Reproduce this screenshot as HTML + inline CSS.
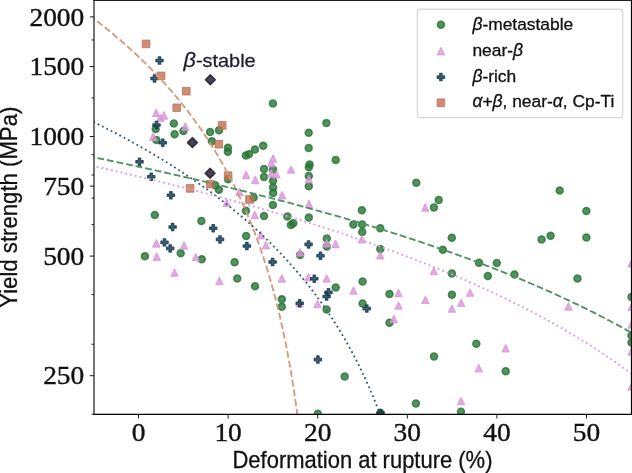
<!DOCTYPE html>
<html><head><meta charset="utf-8"><style>
html,body{margin:0;padding:0;background:#fff;}
body{width:632px;height:473px;overflow:hidden;}
svg{display:block;filter:blur(0.35px);}
.serif{font-family:"Liberation Serif",serif;}
.sans{font-family:"Liberation Sans",sans-serif;stroke-width:0.3px;}
.m0{fill:#287636;fill-opacity:0.8;stroke:#287636;stroke-opacity:0.8;stroke-width:1.6px;stroke-linejoin:round;}
.m1{fill:#da96da;fill-opacity:0.8;stroke:#da96da;stroke-opacity:0.8;stroke-width:1.2px;stroke-linejoin:round;}
.m2{fill:#0f3750;fill-opacity:0.8;stroke:#0f3750;stroke-opacity:0.8;stroke-width:1.2px;stroke-linejoin:round;}
.m3{fill:#c07052;fill-opacity:0.8;stroke:#c07052;stroke-opacity:0.8;stroke-width:1.0px;stroke-linejoin:round;}
.m4{fill:#1c1428;fill-opacity:0.8;stroke:#1c1428;stroke-opacity:0.8;stroke-width:1.5px;stroke-linejoin:round;}

</style></head><body>
<svg width="632" height="473" viewBox="0 0 632 473">
<defs><clipPath id="ax"><rect x="94.0" y="0.5" width="537.3" height="413.8"/></clipPath></defs>
<rect width="632" height="473" fill="#fff"/>

<g clip-path="url(#ax)">
<circle class="m0" cx="272.9" cy="103.6" r="3.45"/><circle class="m0" cx="173.8" cy="123.5" r="3.45"/><circle class="m0" cx="155.7" cy="128.9" r="3.45"/><circle class="m0" cx="174.6" cy="134.2" r="3.45"/><circle class="m0" cx="183.4" cy="131.0" r="3.45"/><circle class="m0" cx="156.4" cy="139.9" r="3.45"/><circle class="m0" cx="210.1" cy="132.0" r="3.45"/><circle class="m0" cx="219.0" cy="130.3" r="3.45"/><circle class="m0" cx="211.9" cy="141.3" r="3.45"/><circle class="m0" cx="227.9" cy="147.8" r="3.45"/><circle class="m0" cx="227.9" cy="151.8" r="3.45"/><circle class="m0" cx="245.8" cy="155.5" r="3.45"/><circle class="m0" cx="249.0" cy="154.3" r="3.45"/><circle class="m0" cx="254.9" cy="149.5" r="3.45"/><circle class="m0" cx="263.2" cy="145.8" r="3.45"/><circle class="m0" cx="308.7" cy="132.7" r="3.45"/><circle class="m0" cx="308.7" cy="148.0" r="3.45"/><circle class="m0" cx="326.4" cy="123.1" r="3.45"/><circle class="m0" cx="335.7" cy="160.0" r="3.45"/><circle class="m0" cx="309.6" cy="164.4" r="3.45"/><circle class="m0" cx="308.8" cy="167.2" r="3.45"/><circle class="m0" cx="308.8" cy="176.0" r="3.45"/><circle class="m0" cx="308.8" cy="186.3" r="3.45"/><circle class="m0" cx="264.0" cy="169.0" r="3.45"/><circle class="m0" cx="264.0" cy="177.0" r="3.45"/><circle class="m0" cx="273.1" cy="169.6" r="3.45"/><circle class="m0" cx="273.1" cy="180.7" r="3.45"/><circle class="m0" cx="273.1" cy="187.6" r="3.45"/><circle class="m0" cx="273.1" cy="192.9" r="3.45"/><circle class="m0" cx="253.7" cy="197.5" r="3.45"/><circle class="m0" cx="272.9" cy="205.0" r="3.45"/><circle class="m0" cx="228.1" cy="179.2" r="3.45"/><circle class="m0" cx="215.3" cy="185.3" r="3.45"/><circle class="m0" cx="218.9" cy="189.8" r="3.45"/><circle class="m0" cx="245.9" cy="210.7" r="3.45"/><circle class="m0" cx="264.0" cy="216.1" r="3.45"/><circle class="m0" cx="201.4" cy="220.9" r="3.45"/><circle class="m0" cx="154.8" cy="214.9" r="3.45"/><circle class="m0" cx="246.2" cy="236.0" r="3.45"/><circle class="m0" cx="180.7" cy="253.2" r="3.45"/><circle class="m0" cx="144.9" cy="256.3" r="3.45"/><circle class="m0" cx="201.7" cy="259.3" r="3.45"/><circle class="m0" cx="234.6" cy="262.2" r="3.45"/><circle class="m0" cx="237.3" cy="278.4" r="3.45"/><circle class="m0" cx="255.0" cy="286.2" r="3.45"/><circle class="m0" cx="281.8" cy="299.3" r="3.45"/><circle class="m0" cx="281.8" cy="306.8" r="3.45"/><circle class="m0" cx="287.4" cy="216.4" r="3.45"/><circle class="m0" cx="293.3" cy="223.2" r="3.45"/><circle class="m0" cx="290.9" cy="225.1" r="3.45"/><circle class="m0" cx="308.8" cy="217.6" r="3.45"/><circle class="m0" cx="361.8" cy="210.3" r="3.45"/><circle class="m0" cx="353.4" cy="224.4" r="3.45"/><circle class="m0" cx="362.2" cy="224.5" r="3.45"/><circle class="m0" cx="362.2" cy="232.0" r="3.45"/><circle class="m0" cx="326.8" cy="238.5" r="3.45"/><circle class="m0" cx="326.8" cy="246.4" r="3.45"/><circle class="m0" cx="300.1" cy="255.1" r="3.45"/><circle class="m0" cx="416.3" cy="182.7" r="3.45"/><circle class="m0" cx="438.7" cy="199.9" r="3.45"/><circle class="m0" cx="433.9" cy="207.4" r="3.45"/><circle class="m0" cx="380.3" cy="228.2" r="3.45"/><circle class="m0" cx="451.8" cy="237.8" r="3.45"/><circle class="m0" cx="380.3" cy="249.0" r="3.45"/><circle class="m0" cx="442.8" cy="249.8" r="3.45"/><circle class="m0" cx="451.9" cy="273.5" r="3.45"/><circle class="m0" cx="362.6" cy="281.6" r="3.45"/><circle class="m0" cx="389.5" cy="294.1" r="3.45"/><circle class="m0" cx="451.9" cy="294.8" r="3.45"/><circle class="m0" cx="335.7" cy="287.4" r="3.45"/><circle class="m0" cx="326.6" cy="309.6" r="3.45"/><circle class="m0" cx="362.6" cy="303.5" r="3.45"/><circle class="m0" cx="389.5" cy="322.7" r="3.45"/><circle class="m0" cx="344.7" cy="376.4" r="3.45"/><circle class="m0" cx="317.8" cy="413.7" r="3.45"/><circle class="m0" cx="380.5" cy="413.0" r="3.45"/><circle class="m0" cx="415.9" cy="403.4" r="3.45"/><circle class="m0" cx="476.3" cy="343.7" r="3.45"/><circle class="m0" cx="434.0" cy="356.4" r="3.45"/><circle class="m0" cx="505.7" cy="371.2" r="3.45"/><circle class="m0" cx="461.0" cy="411.7" r="3.45"/><circle class="m0" cx="586.4" cy="211.0" r="3.45"/><circle class="m0" cx="586.4" cy="237.5" r="3.45"/><circle class="m0" cx="550.6" cy="235.8" r="3.45"/><circle class="m0" cx="541.6" cy="239.4" r="3.45"/><circle class="m0" cx="559.7" cy="190.6" r="3.45"/><circle class="m0" cx="479.0" cy="262.7" r="3.45"/><circle class="m0" cx="496.8" cy="263.0" r="3.45"/><circle class="m0" cx="487.9" cy="276.0" r="3.45"/><circle class="m0" cx="514.5" cy="274.6" r="3.45"/><circle class="m0" cx="577.5" cy="278.6" r="3.45"/><circle class="m0" cx="631.5" cy="296.9" r="3.45"/><circle class="m0" cx="631.5" cy="335.6" r="3.45"/><circle class="m0" cx="631.5" cy="342.6" r="3.45"/>
<path class="m1" d="M156.10 109.15L159.65 116.45L152.55 116.45Z"/><path class="m1" d="M163.90 111.85L167.45 119.15L160.35 119.15Z"/><path class="m1" d="M160.40 114.15L163.95 121.45L156.85 121.45Z"/><path class="m1" d="M185.30 122.95L188.85 130.25L181.75 130.25Z"/><path class="m1" d="M153.20 133.05L156.75 140.35L149.65 140.35Z"/><path class="m1" d="M273.00 154.85L276.55 162.15L269.45 162.15Z"/><path class="m1" d="M271.20 159.55L274.75 166.85L267.65 166.85Z"/><path class="m1" d="M271.20 169.65L274.75 176.95L267.65 176.95Z"/><path class="m1" d="M276.50 170.65L280.05 177.95L272.95 177.95Z"/><path class="m1" d="M291.00 165.95L294.55 173.25L287.45 173.25Z"/><path class="m1" d="M246.10 171.25L249.65 178.55L242.55 178.55Z"/><path class="m1" d="M255.20 176.25L258.75 183.55L251.65 183.55Z"/><path class="m1" d="M239.50 188.35L243.05 195.65L235.95 195.65Z"/><path class="m1" d="M282.10 191.55L285.65 198.85L278.55 198.85Z"/><path class="m1" d="M308.90 175.65L312.45 182.95L305.35 182.95Z"/><path class="m1" d="M308.90 200.35L312.45 207.65L305.35 207.65Z"/><path class="m1" d="M226.70 199.15L230.25 206.45L223.15 206.45Z"/><path class="m1" d="M254.80 211.25L258.35 218.55L251.25 218.55Z"/><path class="m1" d="M260.90 231.55L264.45 238.85L257.35 238.85Z"/><path class="m1" d="M265.90 241.55L269.45 248.85L262.35 248.85Z"/><path class="m1" d="M184.00 241.85L187.55 249.15L180.45 249.15Z"/><path class="m1" d="M156.40 239.75L159.95 247.05L152.85 247.05Z"/><path class="m1" d="M156.70 253.05L160.25 260.35L153.15 260.35Z"/><path class="m1" d="M174.50 268.95L178.05 276.25L170.95 276.25Z"/><path class="m1" d="M195.80 253.45L199.35 260.75L192.25 260.75Z"/><path class="m1" d="M219.40 277.25L222.95 284.55L215.85 284.55Z"/><path class="m1" d="M326.80 239.65L330.35 246.95L323.25 246.95Z"/><path class="m1" d="M335.50 240.35L339.05 247.65L331.95 247.65Z"/><path class="m1" d="M300.10 248.65L303.65 255.95L296.55 255.95Z"/><path class="m1" d="M361.80 235.65L365.35 242.95L358.25 242.95Z"/><path class="m1" d="M380.30 251.65L383.85 258.95L376.75 258.95Z"/><path class="m1" d="M433.80 267.45L437.35 274.75L430.25 274.75Z"/><path class="m1" d="M425.30 203.85L428.85 211.15L421.75 211.15Z"/><path class="m1" d="M281.90 274.75L285.45 282.05L278.35 282.05Z"/><path class="m1" d="M308.40 273.55L311.95 280.85L304.85 280.85Z"/><path class="m1" d="M326.60 274.75L330.15 282.05L323.05 282.05Z"/><path class="m1" d="M353.50 286.95L357.05 294.25L349.95 294.25Z"/><path class="m1" d="M317.50 300.45L321.05 307.75L313.95 307.75Z"/><path class="m1" d="M299.70 299.65L303.25 306.95L296.15 306.95Z"/><path class="m1" d="M398.50 289.35L402.05 296.65L394.95 296.65Z"/><path class="m1" d="M398.50 301.95L402.05 309.25L394.95 309.25Z"/><path class="m1" d="M425.40 296.15L428.95 303.45L421.85 303.45Z"/><path class="m1" d="M393.80 315.15L397.35 322.45L390.25 322.45Z"/><path class="m1" d="M451.90 304.95L455.45 312.25L448.35 312.25Z"/><path class="m1" d="M461.20 299.15L464.75 306.45L457.65 306.45Z"/><path class="m1" d="M470.10 288.95L473.65 296.25L466.55 296.25Z"/><path class="m1" d="M568.40 302.85L571.95 310.15L564.85 310.15Z"/><path class="m1" d="M505.70 344.65L509.25 351.95L502.15 351.95Z"/><path class="m1" d="M478.70 364.55L482.25 371.85L475.15 371.85Z"/><path class="m1" d="M461.00 397.45L464.55 404.75L457.45 404.75Z"/><path class="m1" d="M631.50 259.65L635.05 266.95L627.95 266.95Z"/><path class="m1" d="M631.50 303.45L635.05 310.75L627.95 310.75Z"/><path class="m1" d="M631.50 320.85L635.05 328.15L627.95 328.15Z"/><path class="m1" d="M631.50 347.85L635.05 355.15L627.95 355.15Z"/><path class="m1" d="M631.50 382.75L635.05 390.05L627.95 390.05Z"/>
<path class="m2" d="M158.28 56.85L160.72 56.85L160.72 59.28L163.15 59.28L163.15 61.72L160.72 61.72L160.72 64.15L158.28 64.15L158.28 61.72L155.85 61.72L155.85 59.28L158.28 59.28Z"/><path class="m2" d="M153.28 74.85L155.72 74.85L155.72 77.28L158.15 77.28L158.15 79.72L155.72 79.72L155.72 82.15L153.28 82.15L153.28 79.72L150.85 79.72L150.85 77.28L153.28 77.28Z"/><path class="m2" d="M155.28 121.35L157.72 121.35L157.72 123.78L160.15 123.78L160.15 126.22L157.72 126.22L157.72 128.65L155.28 128.65L155.28 126.22L152.85 126.22L152.85 123.78L155.28 123.78Z"/><path class="m2" d="M161.58 139.05L164.02 139.05L164.02 141.48L166.45 141.48L166.45 143.92L164.02 143.92L164.02 146.35L161.58 146.35L161.58 143.92L159.15 143.92L159.15 141.48L161.58 141.48Z"/><path class="m2" d="M138.28 158.15L140.72 158.15L140.72 160.58L143.15 160.58L143.15 163.02L140.72 163.02L140.72 165.45L138.28 165.45L138.28 163.02L135.85 163.02L135.85 160.58L138.28 160.58Z"/><path class="m2" d="M149.98 173.15L152.42 173.15L152.42 175.58L154.85 175.58L154.85 178.02L152.42 178.02L152.42 180.45L149.98 180.45L149.98 178.02L147.55 178.02L147.55 175.58L149.98 175.58Z"/><path class="m2" d="M169.68 191.65L172.12 191.65L172.12 194.08L174.55 194.08L174.55 196.52L172.12 196.52L172.12 198.95L169.68 198.95L169.68 196.52L167.25 196.52L167.25 194.08L169.68 194.08Z"/><path class="m2" d="M171.38 223.35L173.82 223.35L173.82 225.78L176.25 225.78L176.25 228.22L173.82 228.22L173.82 230.65L171.38 230.65L171.38 228.22L168.95 228.22L168.95 225.78L171.38 225.78Z"/><path class="m2" d="M163.28 238.75L165.72 238.75L165.72 241.18L168.15 241.18L168.15 243.62L165.72 243.62L165.72 246.05L163.28 246.05L163.28 243.62L160.85 243.62L160.85 241.18L163.28 241.18Z"/><path class="m2" d="M168.98 244.75L171.42 244.75L171.42 247.18L173.85 247.18L173.85 249.62L171.42 249.62L171.42 252.05L168.98 252.05L168.98 249.62L166.55 249.62L166.55 247.18L168.98 247.18Z"/><path class="m2" d="M211.98 224.55L214.42 224.55L214.42 226.98L216.85 226.98L216.85 229.42L214.42 229.42L214.42 231.85L211.98 231.85L211.98 229.42L209.55 229.42L209.55 226.98L211.98 226.98Z"/><path class="m2" d="M218.78 235.75L221.22 235.75L221.22 238.18L223.65 238.18L223.65 240.62L221.22 240.62L221.22 243.05L218.78 243.05L218.78 240.62L216.35 240.62L216.35 238.18L218.78 238.18Z"/><path class="m2" d="M245.68 242.35L248.12 242.35L248.12 244.78L250.55 244.78L250.55 247.22L248.12 247.22L248.12 249.65L245.68 249.65L245.68 247.22L243.25 247.22L243.25 244.78L245.68 244.78Z"/><path class="m2" d="M271.38 258.35L273.82 258.35L273.82 260.78L276.25 260.78L276.25 263.22L273.82 263.22L273.82 265.65L271.38 265.65L271.38 263.22L268.95 263.22L268.95 260.78L271.38 260.78Z"/><path class="m2" d="M307.38 240.75L309.82 240.75L309.82 243.18L312.25 243.18L312.25 245.62L309.82 245.62L309.82 248.05L307.38 248.05L307.38 245.62L304.95 245.62L304.95 243.18L307.38 243.18Z"/><path class="m2" d="M319.28 252.15L321.72 252.15L321.72 254.58L324.15 254.58L324.15 257.02L321.72 257.02L321.72 259.45L319.28 259.45L319.28 257.02L316.85 257.02L316.85 254.58L319.28 254.58Z"/><path class="m2" d="M313.08 275.05L315.52 275.05L315.52 277.48L317.95 277.48L317.95 279.92L315.52 279.92L315.52 282.35L313.08 282.35L313.08 279.92L310.65 279.92L310.65 277.48L313.08 277.48Z"/><path class="m2" d="M327.28 288.55L329.72 288.55L329.72 290.98L332.15 290.98L332.15 293.42L329.72 293.42L329.72 295.85L327.28 295.85L327.28 293.42L324.85 293.42L324.85 290.98L327.28 290.98Z"/><path class="m2" d="M325.38 292.85L327.82 292.85L327.82 295.28L330.25 295.28L330.25 297.72L327.82 297.72L327.82 300.15L325.38 300.15L325.38 297.72L322.95 297.72L322.95 295.28L325.38 295.28Z"/><path class="m2" d="M298.48 299.65L300.92 299.65L300.92 302.08L303.35 302.08L303.35 304.52L300.92 304.52L300.92 306.95L298.48 306.95L298.48 304.52L296.05 304.52L296.05 302.08L298.48 302.08Z"/><path class="m2" d="M365.58 304.95L368.02 304.95L368.02 307.38L370.45 307.38L370.45 309.82L368.02 309.82L368.02 312.25L365.58 312.25L365.58 309.82L363.15 309.82L363.15 307.38L365.58 307.38Z"/><path class="m2" d="M316.68 355.95L319.12 355.95L319.12 358.38L321.55 358.38L321.55 360.82L319.12 360.82L319.12 363.25L316.68 363.25L316.68 360.82L314.25 360.82L314.25 358.38L316.68 358.38Z"/><path class="m2" d="M379.28 409.35L381.72 409.35L381.72 411.78L384.15 411.78L384.15 414.22L381.72 414.22L381.72 416.65L379.28 416.65L379.28 414.22L376.85 414.22L376.85 411.78L379.28 411.78Z"/>
<rect class="m3" x="142.25" y="40.10" width="7.6" height="7.6"/><rect class="m3" x="157.30" y="72.10" width="7.6" height="7.6"/><rect class="m3" x="182.50" y="87.40" width="7.6" height="7.6"/><rect class="m3" x="172.90" y="104.00" width="7.6" height="7.6"/><rect class="m3" x="218.40" y="121.60" width="7.6" height="7.6"/><rect class="m3" x="215.00" y="140.40" width="7.6" height="7.6"/><rect class="m3" x="224.30" y="171.80" width="7.6" height="7.6"/><rect class="m3" x="206.60" y="180.30" width="7.6" height="7.6"/><rect class="m3" x="186.30" y="184.60" width="7.6" height="7.6"/><rect class="m3" x="245.70" y="195.70" width="7.6" height="7.6"/>
<path class="m4" d="M210.35 74.80L215.30 79.75L210.35 84.70L205.40 79.75Z"/><path class="m4" d="M192.40 137.65L197.35 142.60L192.40 147.55L187.45 142.60Z"/><path class="m4" d="M210.10 168.25L215.05 173.20L210.10 178.15L205.15 173.20Z"/>
<path d="M91.91 17.23L92.60 17.75L93.29 18.28L93.98 18.80L94.67 19.33L95.36 19.86L96.05 20.39L96.74 20.92L97.43 21.45L98.12 21.99L98.81 22.53L99.50 23.06L100.19 23.60L100.88 24.15L101.57 24.69L102.26 25.24L102.95 25.78L103.64 26.33L104.33 26.88L105.02 27.44L105.71 27.99L106.40 28.55L107.09 29.10L107.78 29.66L108.47 30.22L109.16 30.79L109.85 31.35L110.54 31.92L111.23 32.49L111.92 33.06L112.61 33.63L113.30 34.21L113.99 34.78L114.68 35.36L115.37 35.94L116.06 36.52L116.75 37.11L117.44 37.69L118.12 38.28L118.81 38.87L119.50 39.47L120.19 40.06L120.88 40.66L121.57 41.25L122.26 41.86L122.95 42.46L123.64 43.06L124.33 43.67L125.02 44.28L125.71 44.89L126.40 45.50L127.09 46.12L127.78 46.74L128.47 47.36L129.16 47.98L129.85 48.60L130.54 49.23L131.23 49.86L131.92 50.49L132.61 51.12L133.30 51.76L133.99 52.40L134.68 53.04L135.37 53.68L136.06 54.33L136.75 54.98L137.44 55.63L138.13 56.28L138.82 56.93L139.51 57.59L140.20 58.25L140.89 58.91L141.58 59.58L142.27 60.25L142.96 60.92L143.65 61.59L144.34 62.27L145.03 62.95L145.72 63.63L146.41 64.31L147.10 65.00L147.79 65.69L148.48 66.38L149.17 67.07L149.86 67.77L150.55 68.47L151.24 69.18L151.93 69.88L152.62 70.59L153.31 71.30L154.00 72.02L154.69 72.74L155.38 73.46L156.07 74.18L156.76 74.91L157.45 75.64L158.14 76.37L158.83 77.11L159.52 77.85L160.21 78.59L160.90 79.34L161.59 80.09L162.28 80.84L162.97 81.59L163.66 82.35L164.35 83.12L165.04 83.88L165.73 84.65L166.42 85.42L167.11 86.20L167.80 86.98L168.49 87.76L169.18 88.55L169.87 89.34L170.56 90.13L171.25 90.93L171.94 91.73L172.63 92.54L173.32 93.35L174.01 94.16L174.70 94.98L175.39 95.80L176.08 96.62L176.77 97.45L177.46 98.28L178.15 99.12L178.84 99.96L179.53 100.80L180.22 101.65L180.91 102.50L181.60 103.36L182.29 104.22L182.98 105.09L183.67 105.96L184.36 106.83L185.05 107.71L185.74 108.59L186.43 109.48L187.12 110.38L187.81 111.27L188.50 112.17L189.19 113.08L189.88 113.99L190.57 114.91L191.26 115.83L191.95 116.76L192.64 117.69L193.33 118.62L194.02 119.56L194.71 120.51L195.40 121.46L196.09 122.42L196.78 123.38L197.47 124.35L198.16 125.32L198.85 126.30L199.54 127.29L200.23 128.28L200.92 129.27L201.61 130.27L202.30 131.28L202.99 132.29L203.68 133.31L204.36 134.34L205.05 135.37L205.74 136.41L206.43 137.45L207.12 138.50L207.81 139.56L208.50 140.62L209.19 141.69L209.88 142.77L210.57 143.85L211.26 144.94L211.95 146.04L212.64 147.14L213.33 148.25L214.02 149.37L214.71 150.49L215.40 151.63L216.09 152.77L216.78 153.91L217.47 155.07L218.16 156.23L218.85 157.41L219.54 158.58L220.23 159.77L220.92 160.97L221.61 162.17L222.30 163.38L222.99 164.60L223.68 165.83L224.37 167.07L225.06 168.32L225.75 169.58L226.44 170.84L227.13 172.12L227.82 173.40L228.51 174.70L229.20 176.00L229.89 177.32L230.58 178.64L231.27 179.97L231.96 181.32L232.65 182.67L233.34 184.04L234.03 185.42L234.72 186.81L235.41 188.20L236.10 189.62L236.79 191.04L237.48 192.47L238.17 193.92L238.86 195.38L239.55 196.85L240.24 198.33L240.93 199.83L241.62 201.34L242.31 202.86L243.00 204.40L243.69 205.95L244.38 207.51L245.07 209.09L245.76 210.68L246.45 212.29L247.14 213.91L247.83 215.55L248.52 217.20L249.21 218.88L249.90 220.56L250.59 222.26L251.28 223.98L251.97 225.72L252.66 227.48L253.35 229.25L254.04 231.04L254.73 232.85L255.42 234.68L256.11 236.53L256.80 238.40L257.49 240.29L258.18 242.20L258.87 244.13L259.56 246.09L260.25 248.06L260.94 250.06L261.63 252.08L262.32 254.13L263.01 256.20L263.70 258.30L264.39 260.42L265.08 262.57L265.77 264.74L266.46 266.95L267.15 269.18L267.84 271.44L268.53 273.73L269.22 276.05L269.91 278.41L270.60 280.79L271.29 283.21L271.98 285.67L272.67 288.16L273.36 290.68L274.05 293.25L274.74 295.85L275.43 298.49L276.12 301.17L276.81 303.90L277.50 306.67L278.19 309.48L278.88 312.34L279.57 315.25L280.26 318.21L280.95 321.22L281.64 324.29L282.33 327.41L283.02 330.58L283.71 333.82L284.40 337.12L285.09 340.48L285.78 343.91L286.47 347.41L287.16 350.98L287.85 354.63L288.54 358.36L289.23 362.16L289.92 366.06L290.60 370.04L291.29 374.12L291.98 378.30L292.67 382.58L293.36 386.97L294.05 391.47L294.74 396.10L295.43 400.85L296.12 405.73L296.81 410.76L297.50 415.94L298.19 421.28L298.88 426.80" fill="none" stroke="#d39a7d" stroke-width="1.84" stroke-dasharray="6.81 2.946" stroke-dashoffset="3.27"/>
<path d="M91.91 121.20L92.88 121.68L93.86 122.16L94.84 122.64L95.81 123.13L96.79 123.61L97.77 124.10L98.74 124.58L99.72 125.07L100.70 125.56L101.67 126.05L102.65 126.54L103.63 127.04L104.60 127.53L105.58 128.03L106.56 128.53L107.53 129.03L108.51 129.53L109.49 130.03L110.46 130.53L111.44 131.04L112.42 131.54L113.39 132.05L114.37 132.56L115.35 133.07L116.32 133.59L117.30 134.10L118.28 134.62L119.25 135.13L120.23 135.65L121.21 136.17L122.18 136.69L123.16 137.22L124.14 137.74L125.11 138.27L126.09 138.80L127.07 139.33L128.04 139.86L129.02 140.39L130.00 140.93L130.97 141.47L131.95 142.00L132.93 142.54L133.90 143.09L134.88 143.63L135.86 144.17L136.83 144.72L137.81 145.27L138.79 145.82L139.76 146.37L140.74 146.93L141.72 147.48L142.69 148.04L143.67 148.60L144.65 149.16L145.62 149.72L146.60 150.29L147.58 150.85L148.55 151.42L149.53 151.99L150.51 152.56L151.48 153.14L152.46 153.71L153.44 154.29L154.41 154.87L155.39 155.45L156.37 156.04L157.34 156.62L158.32 157.21L159.30 157.80L160.27 158.39L161.25 158.99L162.23 159.58L163.20 160.18L164.18 160.78L165.16 161.38L166.13 161.99L167.11 162.59L168.09 163.20L169.06 163.81L170.04 164.43L171.02 165.04L171.99 165.66L172.97 166.28L173.95 166.90L174.92 167.52L175.90 168.15L176.88 168.78L177.85 169.41L178.83 170.04L179.81 170.68L180.78 171.31L181.76 171.95L182.74 172.60L183.71 173.24L184.69 173.89L185.67 174.54L186.64 175.19L187.62 175.85L188.60 176.50L189.57 177.16L190.55 177.83L191.53 178.49L192.50 179.16L193.48 179.83L194.46 180.50L195.43 181.18L196.41 181.85L197.39 182.53L198.36 183.22L199.34 183.90L200.32 184.59L201.29 185.28L202.27 185.98L203.24 186.67L204.22 187.37L205.20 188.08L206.17 188.78L207.15 189.49L208.13 190.20L209.10 190.92L210.08 191.63L211.06 192.35L212.03 193.08L213.01 193.80L213.99 194.53L214.96 195.27L215.94 196.00L216.92 196.74L217.89 197.48L218.87 198.23L219.85 198.98L220.82 199.73L221.80 200.48L222.78 201.24L223.75 202.00L224.73 202.77L225.71 203.54L226.68 204.31L227.66 205.08L228.64 205.86L229.61 206.64L230.59 207.43L231.57 208.22L232.54 209.01L233.52 209.81L234.50 210.61L235.47 211.41L236.45 212.22L237.43 213.03L238.40 213.85L239.38 214.67L240.36 215.49L241.33 216.32L242.31 217.15L243.29 217.99L244.26 218.83L245.24 219.67L246.22 220.52L247.19 221.37L248.17 222.23L249.15 223.09L250.12 223.95L251.10 224.82L252.08 225.69L253.05 226.57L254.03 227.45L255.01 228.34L255.98 229.23L256.96 230.13L257.94 231.03L258.91 231.94L259.89 232.85L260.87 233.76L261.84 234.68L262.82 235.61L263.80 236.54L264.77 237.47L265.75 238.41L266.73 239.36L267.70 240.31L268.68 241.26L269.66 242.22L270.63 243.19L271.61 244.16L272.59 245.14L273.56 246.12L274.54 247.11L275.52 248.10L276.49 249.10L277.47 250.11L278.45 251.12L279.42 252.14L280.40 253.16L281.38 254.19L282.35 255.23L283.33 256.27L284.31 257.32L285.28 258.38L286.26 259.44L287.24 260.51L288.21 261.58L289.19 262.66L290.17 263.75L291.14 264.84L292.12 265.95L293.10 267.06L294.07 268.17L295.05 269.30L296.03 270.43L297.00 271.57L297.98 272.71L298.96 273.87L299.93 275.03L300.91 276.20L301.89 277.37L302.86 278.56L303.84 279.75L304.82 280.96L305.79 282.17L306.77 283.39L307.75 284.61L308.72 285.85L309.70 287.10L310.68 288.35L311.65 289.61L312.63 290.89L313.61 292.17L314.58 293.46L315.56 294.76L316.54 296.07L317.51 297.40L318.49 298.73L319.47 300.07L320.44 301.42L321.42 302.79L322.40 304.16L323.37 305.55L324.35 306.94L325.32 308.35L326.30 309.77L327.28 311.20L328.25 312.65L329.23 314.10L330.21 315.57L331.18 317.05L332.16 318.54L333.14 320.05L334.11 321.57L335.09 323.10L336.07 324.65L337.04 326.21L338.02 327.79L339.00 329.38L339.97 330.98L340.95 332.60L341.93 334.23L342.90 335.88L343.88 337.55L344.86 339.23L345.83 340.93L346.81 342.65L347.79 344.38L348.76 346.13L349.74 347.90L350.72 349.69L351.69 351.50L352.67 353.32L353.65 355.17L354.62 357.03L355.60 358.91L356.58 360.82L357.55 362.75L358.53 364.70L359.51 366.67L360.48 368.66L361.46 370.68L362.44 372.72L363.41 374.78L364.39 376.87L365.37 378.99L366.34 381.13L367.32 383.30L368.30 385.50L369.27 387.72L370.25 389.98L371.23 392.26L372.20 394.58L373.18 396.92L374.16 399.30L375.13 401.71L376.11 404.16L377.09 406.64L378.06 409.16L379.04 411.71L380.02 414.31L380.99 416.94L381.97 419.61L382.95 422.33L383.92 425.09L384.90 427.89" fill="none" stroke="#385d71" stroke-width="1.84" stroke-dasharray="1.84 3.04" stroke-dashoffset="3.37"/>
<path d="M91.91 156.91L93.71 157.28L95.52 157.65L97.32 158.02L99.12 158.39L100.93 158.76L102.73 159.14L104.54 159.51L106.34 159.88L108.14 160.26L109.95 160.64L111.75 161.01L113.56 161.39L115.36 161.77L117.16 162.15L118.97 162.53L120.77 162.91L122.58 163.29L124.38 163.68L126.18 164.06L127.99 164.44L129.79 164.83L131.59 165.22L133.40 165.60L135.20 165.99L137.01 166.38L138.81 166.77L140.61 167.16L142.42 167.55L144.22 167.95L146.03 168.34L147.83 168.73L149.63 169.13L151.44 169.52L153.24 169.92L155.05 170.32L156.85 170.72L158.65 171.12L160.46 171.52L162.26 171.92L164.07 172.32L165.87 172.73L167.67 173.13L169.48 173.54L171.28 173.94L173.09 174.35L174.89 174.76L176.69 175.17L178.50 175.58L180.30 175.99L182.11 176.40L183.91 176.82L185.71 177.23L187.52 177.64L189.32 178.06L191.13 178.48L192.93 178.90L194.73 179.32L196.54 179.74L198.34 180.16L200.14 180.58L201.95 181.00L203.75 181.43L205.56 181.85L207.36 182.28L209.16 182.71L210.97 183.14L212.77 183.57L214.58 184.00L216.38 184.43L218.18 184.86L219.99 185.29L221.79 185.73L223.60 186.17L225.40 186.60L227.20 187.04L229.01 187.48L230.81 187.92L232.62 188.36L234.42 188.81L236.22 189.25L238.03 189.70L239.83 190.14L241.64 190.59L243.44 191.04L245.24 191.49L247.05 191.94L248.85 192.39L250.66 192.85L252.46 193.30L254.26 193.76L256.07 194.21L257.87 194.67L259.68 195.13L261.48 195.59L263.28 196.05L265.09 196.52L266.89 196.98L268.69 197.45L270.50 197.91L272.30 198.38L274.11 198.85L275.91 199.32L277.71 199.79L279.52 200.27L281.32 200.74L283.13 201.22L284.93 201.69L286.73 202.17L288.54 202.65L290.34 203.13L292.15 203.62L293.95 204.10L295.75 204.59L297.56 205.07L299.36 205.56L301.17 206.05L302.97 206.54L304.77 207.03L306.58 207.53L308.38 208.02L310.19 208.52L311.99 209.02L313.79 209.52L315.60 210.02L317.40 210.52L319.21 211.02L321.01 211.53L322.81 212.03L324.62 212.54L326.42 213.05L328.23 213.56L330.03 214.08L331.83 214.59L333.64 215.11L335.44 215.62L337.24 216.14L339.05 216.66L340.85 217.18L342.66 217.71L344.46 218.23L346.26 218.76L348.07 219.29L349.87 219.82L351.68 220.35L353.48 220.88L355.28 221.42L357.09 221.95L358.89 222.49L360.70 223.03L362.50 223.57L364.30 224.12L366.11 224.66L367.91 225.21L369.72 225.76L371.52 226.31L373.32 226.86L375.13 227.41L376.93 227.97L378.74 228.53L380.54 229.09L382.34 229.65L384.15 230.21L385.95 230.77L387.76 231.34L389.56 231.91L391.36 232.48L393.17 233.05L394.97 233.63L396.77 234.20L398.58 234.78L400.38 235.36L402.19 235.94L403.99 236.53L405.79 237.11L407.60 237.70L409.40 238.29L411.21 238.88L413.01 239.47L414.81 240.07L416.62 240.67L418.42 241.27L420.23 241.87L422.03 242.48L423.83 243.08L425.64 243.69L427.44 244.30L429.25 244.91L431.05 245.53L432.85 246.15L434.66 246.77L436.46 247.39L438.27 248.01L440.07 248.64L441.87 249.27L443.68 249.90L445.48 250.53L447.29 251.16L449.09 251.80L450.89 252.44L452.70 253.08L454.50 253.73L456.31 254.38L458.11 255.03L459.91 255.68L461.72 256.33L463.52 256.99L465.32 257.65L467.13 258.31L468.93 258.98L470.74 259.65L472.54 260.31L474.34 260.99L476.15 261.66L477.95 262.34L479.76 263.02L481.56 263.70L483.36 264.39L485.17 265.08L486.97 265.77L488.78 266.46L490.58 267.16L492.38 267.86L494.19 268.56L495.99 269.27L497.80 269.98L499.60 270.69L501.40 271.40L503.21 272.12L505.01 272.84L506.82 273.56L508.62 274.29L510.42 275.02L512.23 275.75L514.03 276.49L515.84 277.23L517.64 277.97L519.44 278.71L521.25 279.46L523.05 280.21L524.86 280.97L526.66 281.73L528.46 282.49L530.27 283.25L532.07 284.02L533.87 284.79L535.68 285.57L537.48 286.35L539.29 287.13L541.09 287.92L542.89 288.71L544.70 289.50L546.50 290.30L548.31 291.10L550.11 291.90L551.91 292.71L553.72 293.52L555.52 294.34L557.33 295.16L559.13 295.98L560.93 296.81L562.74 297.64L564.54 298.47L566.35 299.31L568.15 300.16L569.95 301.00L571.76 301.86L573.56 302.71L575.37 303.57L577.17 304.44L578.97 305.31L580.78 306.18L582.58 307.06L584.39 307.94L586.19 308.83L587.99 309.72L589.80 310.61L591.60 311.51L593.41 312.42L595.21 313.33L597.01 314.25L598.82 315.17L600.62 316.09L602.42 317.02L604.23 317.96L606.03 318.90L607.84 319.84L609.64 320.79L611.44 321.75L613.25 322.71L615.05 323.67L616.86 324.65L618.66 325.62L620.46 326.61L622.27 327.59L624.07 328.59L625.88 329.59L627.68 330.59L629.48 331.61L631.29 332.62L633.09 333.65" fill="none" stroke="#4d935e" stroke-width="1.84" stroke-dasharray="6.81 2.946" stroke-dashoffset="4.13"/>
<path d="M91.91 165.75L93.71 166.16L95.52 166.56L97.32 166.97L99.12 167.38L100.93 167.78L102.73 168.19L104.54 168.60L106.34 169.02L108.14 169.43L109.95 169.84L111.75 170.26L113.56 170.67L115.36 171.09L117.16 171.50L118.97 171.92L120.77 172.34L122.58 172.76L124.38 173.18L126.18 173.61L127.99 174.03L129.79 174.45L131.59 174.88L133.40 175.31L135.20 175.73L137.01 176.16L138.81 176.59L140.61 177.02L142.42 177.46L144.22 177.89L146.03 178.32L147.83 178.76L149.63 179.19L151.44 179.63L153.24 180.07L155.05 180.51L156.85 180.95L158.65 181.39L160.46 181.84L162.26 182.28L164.07 182.73L165.87 183.17L167.67 183.62L169.48 184.07L171.28 184.52L173.09 184.97L174.89 185.42L176.69 185.88L178.50 186.33L180.30 186.79L182.11 187.24L183.91 187.70L185.71 188.16L187.52 188.62L189.32 189.08L191.13 189.55L192.93 190.01L194.73 190.48L196.54 190.95L198.34 191.41L200.14 191.88L201.95 192.35L203.75 192.83L205.56 193.30L207.36 193.77L209.16 194.25L210.97 194.73L212.77 195.21L214.58 195.69L216.38 196.17L218.18 196.65L219.99 197.14L221.79 197.62L223.60 198.11L225.40 198.60L227.20 199.09L229.01 199.58L230.81 200.07L232.62 200.56L234.42 201.06L236.22 201.55L238.03 202.05L239.83 202.55L241.64 203.05L243.44 203.56L245.24 204.06L247.05 204.56L248.85 205.07L250.66 205.58L252.46 206.09L254.26 206.60L256.07 207.11L257.87 207.63L259.68 208.14L261.48 208.66L263.28 209.18L265.09 209.70L266.89 210.22L268.69 210.75L270.50 211.27L272.30 211.80L274.11 212.33L275.91 212.86L277.71 213.39L279.52 213.92L281.32 214.46L283.13 215.00L284.93 215.53L286.73 216.07L288.54 216.62L290.34 217.16L292.15 217.71L293.95 218.25L295.75 218.80L297.56 219.35L299.36 219.90L301.17 220.46L302.97 221.01L304.77 221.57L306.58 222.13L308.38 222.69L310.19 223.26L311.99 223.82L313.79 224.39L315.60 224.96L317.40 225.53L319.21 226.10L321.01 226.67L322.81 227.25L324.62 227.83L326.42 228.41L328.23 228.99L330.03 229.57L331.83 230.16L333.64 230.75L335.44 231.34L337.24 231.93L339.05 232.52L340.85 233.12L342.66 233.72L344.46 234.32L346.26 234.92L348.07 235.53L349.87 236.13L351.68 236.74L353.48 237.35L355.28 237.97L357.09 238.58L358.89 239.20L360.70 239.82L362.50 240.44L364.30 241.06L366.11 241.69L367.91 242.32L369.72 242.95L371.52 243.58L373.32 244.22L375.13 244.86L376.93 245.50L378.74 246.14L380.54 246.79L382.34 247.43L384.15 248.08L385.95 248.74L387.76 249.39L389.56 250.05L391.36 250.71L393.17 251.37L394.97 252.04L396.77 252.70L398.58 253.37L400.38 254.05L402.19 254.72L403.99 255.40L405.79 256.08L407.60 256.77L409.40 257.45L411.21 258.14L413.01 258.83L414.81 259.53L416.62 260.22L418.42 260.92L420.23 261.63L422.03 262.33L423.83 263.04L425.64 263.75L427.44 264.47L429.25 265.19L431.05 265.91L432.85 266.63L434.66 267.36L436.46 268.09L438.27 268.82L440.07 269.56L441.87 270.30L443.68 271.04L445.48 271.78L447.29 272.53L449.09 273.28L450.89 274.04L452.70 274.80L454.50 275.56L456.31 276.33L458.11 277.10L459.91 277.87L461.72 278.64L463.52 279.42L465.32 280.21L467.13 280.99L468.93 281.78L470.74 282.58L472.54 283.37L474.34 284.17L476.15 284.98L477.95 285.79L479.76 286.60L481.56 287.42L483.36 288.24L485.17 289.06L486.97 289.89L488.78 290.72L490.58 291.55L492.38 292.39L494.19 293.24L495.99 294.09L497.80 294.94L499.60 295.80L501.40 296.66L503.21 297.52L505.01 298.39L506.82 299.27L508.62 300.14L510.42 301.03L512.23 301.91L514.03 302.81L515.84 303.70L517.64 304.60L519.44 305.51L521.25 306.42L523.05 307.34L524.86 308.26L526.66 309.18L528.46 310.11L530.27 311.05L532.07 311.99L533.87 312.94L535.68 313.89L537.48 314.84L539.29 315.81L541.09 316.77L542.89 317.74L544.70 318.72L546.50 319.71L548.31 320.70L550.11 321.69L551.91 322.69L553.72 323.70L555.52 324.71L557.33 325.73L559.13 326.75L560.93 327.78L562.74 328.82L564.54 329.86L566.35 330.91L568.15 331.97L569.95 333.03L571.76 334.10L573.56 335.18L575.37 336.26L577.17 337.35L578.97 338.44L580.78 339.55L582.58 340.66L584.39 341.77L586.19 342.90L587.99 344.03L589.80 345.17L591.60 346.32L593.41 347.47L595.21 348.63L597.01 349.81L598.82 350.98L600.62 352.17L602.42 353.36L604.23 354.57L606.03 355.78L607.84 357.00L609.64 358.23L611.44 359.47L613.25 360.71L615.05 361.97L616.86 363.23L618.66 364.51L620.46 365.79L622.27 367.08L624.07 368.39L625.88 369.70L627.68 371.02L629.48 372.36L631.29 373.70L633.09 375.05" fill="none" stroke="#dd9bdd" stroke-width="1.84" stroke-dasharray="1.84 3.04" stroke-dashoffset="4.86"/>
</g>
<g stroke="#000" fill="none"><line x1="94.0" y1="-0.5" x2="94.0" y2="414.90000000000003" stroke-width="1.1"/><line x1="631.5" y1="-0.5" x2="631.5" y2="414.90000000000003" stroke-width="1.2"/><line x1="93.45" y1="414.3" x2="632.0" y2="414.3" stroke-width="1.2"/><line x1="93.45" y1="0.45" x2="632.0" y2="0.45" stroke-width="0.95"/></g>
<g stroke="#1a1a1a" stroke-width="1.0"><line x1="89.80" y1="16.90" x2="94.0" y2="16.90"/><line x1="89.80" y1="66.54" x2="94.0" y2="66.54"/><line x1="89.80" y1="136.50" x2="94.0" y2="136.50"/><line x1="89.80" y1="186.14" x2="94.0" y2="186.14"/><line x1="89.80" y1="256.10" x2="94.0" y2="256.10"/><line x1="89.80" y1="375.70" x2="94.0" y2="375.70"/><line x1="91.60" y1="39.94" x2="94.0" y2="39.94"/><line x1="91.60" y1="98.00" x2="94.0" y2="98.00"/><line x1="91.60" y1="154.68" x2="94.0" y2="154.68"/><line x1="91.60" y1="175.00" x2="94.0" y2="175.00"/><line x1="91.60" y1="198.04" x2="94.0" y2="198.04"/><line x1="91.60" y1="224.64" x2="94.0" y2="224.64"/><line x1="91.60" y1="294.60" x2="94.0" y2="294.60"/><line x1="91.60" y1="344.24" x2="94.0" y2="344.24"/><line x1="91.60" y1="414.20" x2="94.0" y2="414.20"/><line x1="138.50" y1="414.3" x2="138.50" y2="418.50"/><line x1="228.10" y1="414.3" x2="228.10" y2="418.50"/><line x1="317.70" y1="414.3" x2="317.70" y2="418.50"/><line x1="407.30" y1="414.3" x2="407.30" y2="418.50"/><line x1="496.90" y1="414.3" x2="496.90" y2="418.50"/><line x1="586.50" y1="414.3" x2="586.50" y2="418.50"/></g>
<g class="serif" font-size="24.4" fill="#111" stroke="#111" stroke-width="0.35"><text transform="translate(84.3 25.50) scale(1.125 1)" text-anchor="end">2000</text><text transform="translate(84.3 75.14) scale(1.125 1)" text-anchor="end">1500</text><text transform="translate(84.3 145.10) scale(1.125 1)" text-anchor="end">1000</text><text transform="translate(84.3 194.74) scale(1.125 1)" text-anchor="end">750</text><text transform="translate(84.3 264.70) scale(1.125 1)" text-anchor="end">500</text><text transform="translate(84.3 384.30) scale(1.125 1)" text-anchor="end">250</text><text transform="translate(138.50 440.5) scale(1.125 1)" text-anchor="middle">0</text><text transform="translate(228.10 440.5) scale(1.125 1)" text-anchor="middle">10</text><text transform="translate(317.70 440.5) scale(1.125 1)" text-anchor="middle">20</text><text transform="translate(407.30 440.5) scale(1.125 1)" text-anchor="middle">30</text><text transform="translate(496.90 440.5) scale(1.125 1)" text-anchor="middle">40</text><text transform="translate(586.50 440.5) scale(1.125 1)" text-anchor="middle">50</text></g>
<text class="sans" font-size="23.1" fill="#111" stroke="#111" transform="translate(232.5 467.9) scale(0.951 1)">Deformation at rupture (%)</text>
<text class="sans" font-size="23.1" fill="#111" stroke="#111" transform="translate(16.5 307.8) rotate(-90) scale(0.96 1)">Yield strength (MPa)</text>
<text class="sans" font-size="19.9" fill="#221c2c" stroke="#221c2c" transform="translate(183.6 66.5) scale(1 0.92)"><tspan font-style="italic" font-size="21.6">β</tspan>-stable</text>
<rect x="417.3" y="9.1" width="205.5" height="108.5" rx="3.2" ry="3.2" fill="#fff" fill-opacity="0.85" stroke="#d4d4d4" stroke-width="1.1"/>
<circle class="m0" cx="440.9" cy="24.8" r="3.45"/>
<path class="m1" d="M440.90 47.55L444.45 54.85L437.35 54.85Z"/>
<path class="m2" d="M439.68 73.45L442.12 73.45L442.12 75.88L444.55 75.88L444.55 78.32L442.12 78.32L442.12 80.75L439.68 80.75L439.68 78.32L437.25 78.32L437.25 75.88L439.68 75.88Z"/>
<rect class="m3" x="437.10" y="98.90" width="7.6" height="7.6"/>
<g class="sans" font-size="17.4" fill="#111" stroke="#111"><text x="472.4" y="30.4"><tspan font-style="italic" font-size="17.5">β</tspan>-metastable</text><text x="472.4" y="56.0">near-<tspan font-style="italic" font-size="17.5">β</tspan></text><text x="472.4" y="81.7"><tspan font-style="italic" font-size="17.5">β</tspan>-rich</text><text x="472.4" y="107.2"><tspan font-style="italic" font-size="17.5">α</tspan>+<tspan font-style="italic" font-size="17.5">β</tspan>, near-<tspan font-style="italic" font-size="17.5">α</tspan>, Cp-Ti</text></g>
</svg></body></html>
